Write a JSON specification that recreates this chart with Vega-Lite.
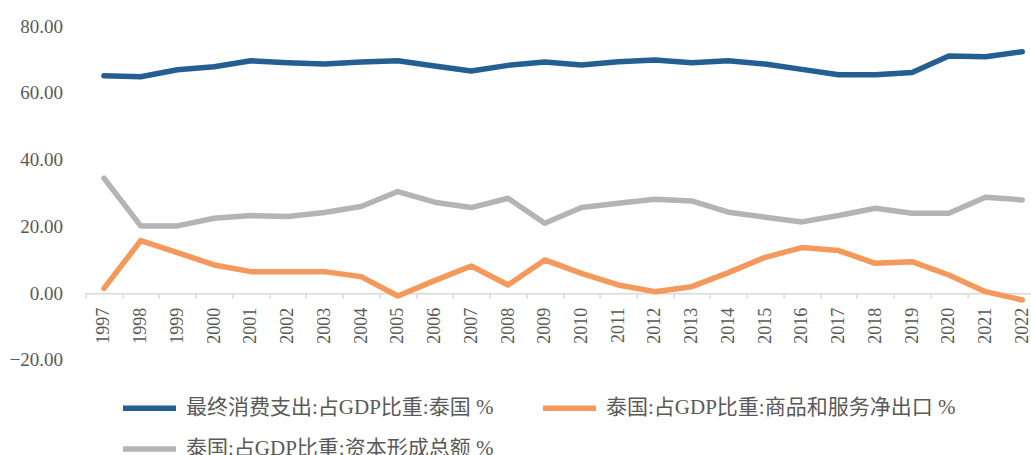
{
  "$schema": "https://vega.github.io/schema/vega-lite/v6.json",
  "width": 945.4,
  "height": 333.75,
  "autosize": {"type": "none"},
  "padding": {"left": 85.6, "top": 26, "right": 0, "bottom": 95.25},
  "background": "white",
  "config": {
    "view": {"stroke": null},
    "font": "Liberation Serif"
  },
  "datasets": {
    "rows": [
      {"year": "1997", "series": "最终消费支出:占GDP比重:泰国 %", "value": 65.1},
      {"year": "1998", "series": "最终消费支出:占GDP比重:泰国 %", "value": 64.8},
      {"year": "1999", "series": "最终消费支出:占GDP比重:泰国 %", "value": 66.9},
      {"year": "2000", "series": "最终消费支出:占GDP比重:泰国 %", "value": 67.8},
      {"year": "2001", "series": "最终消费支出:占GDP比重:泰国 %", "value": 69.6},
      {"year": "2002", "series": "最终消费支出:占GDP比重:泰国 %", "value": 69.0},
      {"year": "2003", "series": "最终消费支出:占GDP比重:泰国 %", "value": 68.6},
      {"year": "2004", "series": "最终消费支出:占GDP比重:泰国 %", "value": 69.2},
      {"year": "2005", "series": "最终消费支出:占GDP比重:泰国 %", "value": 69.6},
      {"year": "2006", "series": "最终消费支出:占GDP比重:泰国 %", "value": 68.0},
      {"year": "2007", "series": "最终消费支出:占GDP比重:泰国 %", "value": 66.5},
      {"year": "2008", "series": "最终消费支出:占GDP比重:泰国 %", "value": 68.2},
      {"year": "2009", "series": "最终消费支出:占GDP比重:泰国 %", "value": 69.2},
      {"year": "2010", "series": "最终消费支出:占GDP比重:泰国 %", "value": 68.3},
      {"year": "2011", "series": "最终消费支出:占GDP比重:泰国 %", "value": 69.3},
      {"year": "2012", "series": "最终消费支出:占GDP比重:泰国 %", "value": 69.8},
      {"year": "2013", "series": "最终消费支出:占GDP比重:泰国 %", "value": 69.0},
      {"year": "2014", "series": "最终消费支出:占GDP比重:泰国 %", "value": 69.6},
      {"year": "2015", "series": "最终消费支出:占GDP比重:泰国 %", "value": 68.6},
      {"year": "2016", "series": "最终消费支出:占GDP比重:泰国 %", "value": 67.0},
      {"year": "2017", "series": "最终消费支出:占GDP比重:泰国 %", "value": 65.4},
      {"year": "2018", "series": "最终消费支出:占GDP比重:泰国 %", "value": 65.4},
      {"year": "2019", "series": "最终消费支出:占GDP比重:泰国 %", "value": 66.1},
      {"year": "2020", "series": "最终消费支出:占GDP比重:泰国 %", "value": 71.0},
      {"year": "2021", "series": "最终消费支出:占GDP比重:泰国 %", "value": 70.8},
      {"year": "2022", "series": "最终消费支出:占GDP比重:泰国 %", "value": 72.3},
      {"year": "1997", "series": "泰国:占GDP比重:商品和服务净出口 %", "value": 1.4},
      {"year": "1998", "series": "泰国:占GDP比重:商品和服务净出口 %", "value": 15.7},
      {"year": "1999", "series": "泰国:占GDP比重:商品和服务净出口 %", "value": 12.1},
      {"year": "2000", "series": "泰国:占GDP比重:商品和服务净出口 %", "value": 8.4},
      {"year": "2001", "series": "泰国:占GDP比重:商品和服务净出口 %", "value": 6.4},
      {"year": "2002", "series": "泰国:占GDP比重:商品和服务净出口 %", "value": 6.4},
      {"year": "2003", "series": "泰国:占GDP比重:商品和服务净出口 %", "value": 6.4},
      {"year": "2004", "series": "泰国:占GDP比重:商品和服务净出口 %", "value": 4.9},
      {"year": "2005", "series": "泰国:占GDP比重:商品和服务净出口 %", "value": -0.9},
      {"year": "2006", "series": "泰国:占GDP比重:商品和服务净出口 %", "value": 3.7},
      {"year": "2007", "series": "泰国:占GDP比重:商品和服务净出口 %", "value": 8.1},
      {"year": "2008", "series": "泰国:占GDP比重:商品和服务净出口 %", "value": 2.4},
      {"year": "2009", "series": "泰国:占GDP比重:商品和服务净出口 %", "value": 9.9},
      {"year": "2010", "series": "泰国:占GDP比重:商品和服务净出口 %", "value": 5.9},
      {"year": "2011", "series": "泰国:占GDP比重:商品和服务净出口 %", "value": 2.4},
      {"year": "2012", "series": "泰国:占GDP比重:商品和服务净出口 %", "value": 0.4},
      {"year": "2013", "series": "泰国:占GDP比重:商品和服务净出口 %", "value": 1.9},
      {"year": "2014", "series": "泰国:占GDP比重:商品和服务净出口 %", "value": 6.1},
      {"year": "2015", "series": "泰国:占GDP比重:商品和服务净出口 %", "value": 10.7},
      {"year": "2016", "series": "泰国:占GDP比重:商品和服务净出口 %", "value": 13.6},
      {"year": "2017", "series": "泰国:占GDP比重:商品和服务净出口 %", "value": 12.7},
      {"year": "2018", "series": "泰国:占GDP比重:商品和服务净出口 %", "value": 8.9},
      {"year": "2019", "series": "泰国:占GDP比重:商品和服务净出口 %", "value": 9.4},
      {"year": "2020", "series": "泰国:占GDP比重:商品和服务净出口 %", "value": 5.4},
      {"year": "2021", "series": "泰国:占GDP比重:商品和服务净出口 %", "value": 0.4},
      {"year": "2022", "series": "泰国:占GDP比重:商品和服务净出口 %", "value": -2.1},
      {"year": "1997", "series": "泰国:占GDP比重:资本形成总额 %", "value": 34.4},
      {"year": "1998", "series": "泰国:占GDP比重:资本形成总额 %", "value": 20.1},
      {"year": "1999", "series": "泰国:占GDP比重:资本形成总额 %", "value": 20.1},
      {"year": "2000", "series": "泰国:占GDP比重:资本形成总额 %", "value": 22.4},
      {"year": "2001", "series": "泰国:占GDP比重:资本形成总额 %", "value": 23.2},
      {"year": "2002", "series": "泰国:占GDP比重:资本形成总额 %", "value": 22.9},
      {"year": "2003", "series": "泰国:占GDP比重:资本形成总额 %", "value": 24.1},
      {"year": "2004", "series": "泰国:占GDP比重:资本形成总额 %", "value": 25.9},
      {"year": "2005", "series": "泰国:占GDP比重:资本形成总额 %", "value": 30.4},
      {"year": "2006", "series": "泰国:占GDP比重:资本形成总额 %", "value": 27.2},
      {"year": "2007", "series": "泰国:占GDP比重:资本形成总额 %", "value": 25.6},
      {"year": "2008", "series": "泰国:占GDP比重:资本形成总额 %", "value": 28.4},
      {"year": "2009", "series": "泰国:占GDP比重:资本形成总额 %", "value": 20.9},
      {"year": "2010", "series": "泰国:占GDP比重:资本形成总额 %", "value": 25.6},
      {"year": "2011", "series": "泰国:占GDP比重:资本形成总额 %", "value": 26.9},
      {"year": "2012", "series": "泰国:占GDP比重:资本形成总额 %", "value": 28.1},
      {"year": "2013", "series": "泰国:占GDP比重:资本形成总额 %", "value": 27.6},
      {"year": "2014", "series": "泰国:占GDP比重:资本形成总额 %", "value": 24.2},
      {"year": "2015", "series": "泰国:占GDP比重:资本形成总额 %", "value": 22.7},
      {"year": "2016", "series": "泰国:占GDP比重:资本形成总额 %", "value": 21.3},
      {"year": "2017", "series": "泰国:占GDP比重:资本形成总额 %", "value": 23.2},
      {"year": "2018", "series": "泰国:占GDP比重:资本形成总额 %", "value": 25.4},
      {"year": "2019", "series": "泰国:占GDP比重:资本形成总额 %", "value": 23.9},
      {"year": "2020", "series": "泰国:占GDP比重:资本形成总额 %", "value": 23.9},
      {"year": "2021", "series": "泰国:占GDP比重:资本形成总额 %", "value": 28.7},
      {"year": "2022", "series": "泰国:占GDP比重:资本形成总额 %", "value": 27.9}
    ]
  },
  "data": {"name": "rows"},
  "mark": {"type": "line", "strokeWidth": 5.5, "strokeCap": "round", "strokeJoin": "round"},
  "encoding": {
    "x": {
      "field": "year",
      "type": "ordinal",
      "bandPosition": 0.5,
      "scale": {"type": "band", "paddingInner": 0, "paddingOuter": 0, "range": [0, 955]},
      "axis": {
        "title": null,
        "orient": "bottom",
        "offset": -66.5,
        "labelAngle": -90,
        "labelAlign": "right",
        "labelBaseline": "middle",
        "labelFont": "Liberation Serif",
        "labelFontSize": 18,
        "labelColor": "#595959",
        "labelPadding": 9,
        "tickBand": "extent",
        "tickSize": 5,
        "tickColor": "#D9D9D9",
        "tickWidth": 1.5,
        "domainColor": "#D9D9D9",
        "domainWidth": 1.5,
        "grid": false
      }
    },
    "y": {
      "field": "value",
      "type": "quantitative",
      "scale": {"domain": [-20, 80], "nice": false, "zero": false},
      "axis": {
        "title": null,
        "values": [-20, 0, 20, 40, 60, 80],
        "format": ".2f",
        "domain": false,
        "ticks": false,
        "grid": false,
        "labelFont": "Liberation Serif",
        "labelFontSize": 19,
        "labelColor": "#595959",
        "labelPadding": 23
      }
    },
    "color": {
      "field": "series",
      "type": "nominal",
      "scale": {
        "domain": ["最终消费支出:占GDP比重:泰国 %", "泰国:占GDP比重:商品和服务净出口 %", "泰国:占GDP比重:资本形成总额 %"],
        "range": ["#255E91", "#F4995B", "#B4B4B4"]
      },
      "legend": {
        "title": null,
        "orient": "none",
        "legendX": 34.4,
        "legendY": 352.5,
        "columns": 2,
        "direction": "horizontal",
        "symbolType": "stroke",
        "symbolSize": 2809,
        "symbolStrokeWidth": 5.5,
        "labelOffset": 7,
        "labelFont": "Liberation Serif, Noto Sans CJK SC",
        "labelFontSize": 21,
        "labelColor": "#595959",
        "labelLimit": 600,
        "columnPadding": 38,
        "rowPadding": -18,
        "padding": 0
      }
    }
  }
}
